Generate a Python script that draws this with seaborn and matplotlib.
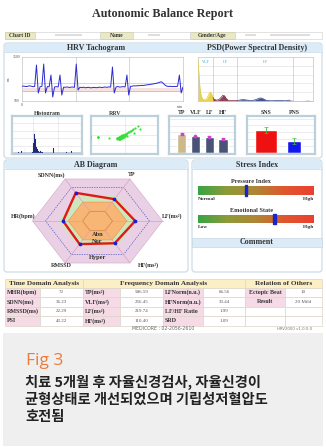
import numpy as np
import pandas as pd
import matplotlib
matplotlib.use("Agg")
import matplotlib.pyplot as plt
import seaborn as sns
from matplotlib.patches import Rectangle, FancyBboxPatch
from matplotlib.colors import LinearSegmentedColormap

sns.set_theme(style="white")
plt.rcParams['font.family'] = ['Liberation Serif', 'DejaVu Sans']

# ---------------- data ----------------
report_title = "Autonomic Balance Report"
info_labels = ["Chart ID", "Name", "Gender/Age"]
panel_titles = ["HRV Tachogram", "PSD(Power Spectral Density)", "AB Diagram", "Stress Index", "Comment"]
small_titles = ["Histogram", "RRV"]

rr_ms = [835, 840, 828, 832, 845, 838, 826, 830, 1318, 682,
         825, 832, 1340, 682, 828, 822, 1090, 591, 820, 826,
         818, 1090, 636, 815, 812, 820, 808, 814, 818, 810,
         1340, 750, 812, 806, 815, 800, 808, 812, 798, 805,
         810, 802, 808, 815, 806, 812, 818, 810, 822, 815,
         1272, 682, 820, 828, 815, 822, 826, 818, 1090, 636,
         832, 838, 845, 842, 850, 848, 856, 852, 860, 866,
         872, 878, 885, 892, 900, 910, 925, 938, 905, 862,
         838, 830, 835, 826, 832, 828, 835, 1090, 682, 820]

psd_freq = [0.000, 0.003, 0.006, 0.009, 0.012, 0.016, 0.020, 0.025, 0.030, 0.035,
            0.040, 0.045, 0.050, 0.055, 0.060, 0.065, 0.070, 0.080, 0.090, 0.100,
            0.108, 0.115, 0.122, 0.130, 0.140, 0.150, 0.160, 0.170, 0.180, 0.190,
            0.200, 0.215, 0.230, 0.245, 0.260, 0.270, 0.280, 0.290, 0.300, 0.320,
            0.340, 0.360, 0.380, 0.400, 0.420, 0.440, 0.460, 0.475, 0.490, 0.500]
psd_power = [92, 70, 45, 28, 16, 9, 5, 3, 3, 4,
             7, 13, 19, 20, 15, 8, 4, 2, 3, 8,
             13, 12, 6, 2, 1, 1, 1, 1, 2, 3,
             3, 2, 1, 2, 5, 7, 6, 3, 1, 0.5,
             1, 1, 0.5, 2, 1, 0.5, 1, 2, 1, 0.5]
band_names = ["VLF", "LF", "HF"]
band_edges = [0.0, 0.065, 0.17, 0.415]

spectral_labels = ["TP", "VLF", "LF", "HF"]
spectral_power = [586.59, 256.45, 219.74, 110.40]

ans_labels = ["SNS", "PNS"]
ans_values = [66.56, 33.44]
ans_error = [10, 9]

radar_labels = ["LF(ms²)", "TP", "SDNN(ms)", "HR(bpm)", "RMSSD", "HF(ms²)"]
radar_values = [0.58, 0.52, 0.67, 0.53, 0.55, 0.53]
zone_levels = [1.0, 0.8, 0.6, 0.45, 0.23]
zone_names = ["Abn", "Nor", "Hyper"]

stress_names = ["Pressure Index", "Emotional State"]
stress_values = [41.5, 66.0]
stress_low = ["Normal", "Low"]
stress_high = ["High", "High"]

table_headers = ["Time Domain Analysis", "Frequency Domain Analysis", "Relation of Others"]
time_labels = ["MHR(bpm)", "SDNN(ms)", "RMSSD(ms)", "PSI"]
time_values = ["72", "36.23", "22.29", "43.22"]
freq_labels1 = ["TP(ms²)", "VLF(ms²)", "LF(ms²)", "HF(ms²)"]
freq_values1 = ["586.59", "256.45", "219.74", "110.40"]
freq_labels2 = ["LFNorm(n.u.)", "HFNorm(n.u.)", "LF/HF Ratio", "SRD"]
freq_values2 = ["66.56", "33.44", "1.99", "1.09"]
rel_labels = ["Ectopic Beat", "Result", "", ""]
rel_values = ["10", "20 Mild", "", ""]
footer_text = "MEDICORE : 02-2056-2610"
version_text = "HRV2000 v1.0.0.0"

caption_title = "Fig 3"
caption_lines = ["치료 5개월 후 자율신경검사, 자율신경이",
                 "균형상태로 개선되었으며 기립성저혈압도",
                 "호전됨"]

# ---------------- figure ----------------
W, H = 326, 447
fig = plt.figure(figsize=(W / 100, H / 100), dpi=100)
fig.patch.set_facecolor("white")
bg = fig.add_axes([0, 0, 1, 1])
bg.set_xlim(0, W)
bg.set_ylim(H, 0)
bg.axis("off")

SERIF = ['Liberation Serif', 'DejaVu Serif']
DARK = "#333333"


def px_axes(x0, y0, x1, y1):
    return fig.add_axes([x0 / W, 1 - y1 / H, (x1 - x0) / W, (y1 - y0) / H])


def box(x0, y0, x1, y1, fc, ec, lw=0.6, r=0, z=1):
    if r:
        p = FancyBboxPatch((x0, y0), x1 - x0, y1 - y0,
                           boxstyle=f"round,pad=0,rounding_size={r}",
                           fc=fc, ec=ec, lw=lw, zorder=z)
    else:
        p = Rectangle((x0, y0), x1 - x0, y1 - y0, fc=fc, ec=ec, lw=lw, zorder=z)
    bg.add_patch(p)


def T(x, y, s, size, ha="center", va="center", bold=True, color=DARK, family=None, z=5, **kw):
    bg.text(x, y, s, fontsize=size, ha=ha, va=va, color=color,
            fontweight="bold" if bold else "normal",
            family=family if family else SERIF, zorder=z, **kw)


# title
T(163, 14, report_title, 8.7)

# info row
info_cells = [(5, 35), (100, 133), (190, 235)]
value_cells = [(35, 100), (133, 190), (235, 322)]
for (a, b), lab in zip(info_cells, info_labels):
    box(a, 31.5, b, 39, "#e9e9c6", "#c9c9a2", lw=0.5)
    T((a + b) / 2, 35.3, lab, 4.0)
for a, b in value_cells:
    box(a, 31.5, b, 39, "white", "#d6d6d6", lw=0.5)
for a, b in [(55, 82), (148, 160), (245, 256), (270, 310)]:
    box(a, 34.3, b, 36.3, "#dedede", "none", lw=0)

# ---------------- top panel ----------------
PANEL_EC = "#c6d8e4"
BAND_FC = "#dbecf8"
box(4, 43, 322, 158, "white", PANEL_EC, lw=0.8, r=3)
box(4.4, 43.4, 321.6, 52, BAND_FC, "none", lw=0, r=2.5, z=1.5)
bg.plot([4.4, 321.6], [52, 52], color=PANEL_EC, lw=0.5, zorder=2)
T(96, 47.8, panel_titles[0], 5.8)
T(257, 47.8, panel_titles[1], 5.8)

# tachogram
ax = px_axes(22, 57, 183, 101)
tach = pd.DataFrame({"beat": np.arange(len(rr_ms)), "rr": rr_ms})
ax.axhspan(705, 790, color="#f7e2e2", lw=0, zorder=0)
ax.axhline(727, color="#e9a3a3", lw=0.5, zorder=1)
ax.axhline(909, color="#b8b8b8", lw=0.4, zorder=1)
nb = len(rr_ms) - 1
for xv in (nb / 3, 2 * nb / 3):
    ax.axvline(xv, color="#c8c8c8", lw=0.5, zorder=1)
sns.lineplot(data=tach, x="beat", y="rr", ax=ax, color="#2b2bd0", lw=0.7, zorder=3)
ax.set_xlim(0, nb)
ax.set_ylim(500, 1500)
ax.set_yticks([500, 1500])
ax.set_yticklabels(["500", "1500"])
ax.set_xticks([0])
ax.set_xticklabels(["0"])
ax.tick_params(length=0, pad=1.5, labelsize=2.8, colors="#555555")
ax.set_xlabel("")
ax.set_ylabel("ms", fontsize=2.8, labelpad=1, color="#555555")
ax.text(1.0, -0.1, "min", transform=ax.transAxes, fontsize=2.8, ha="right", va="top", color="#555555")
for s in ax.spines.values():
    s.set_color("#c4c4c4")
    s.set_linewidth(0.5)

# PSD
ax = px_axes(198, 57, 313, 101)
f = np.array(psd_freq)
p = np.array(psd_power)
band_colors = ["#e6cf3c", "#7e2f45", "#2f3f86"]
for yv in (20, 40, 60, 80):
    ax.axhline(yv, color="#dcdcdc", lw=0.4, zorder=0)
for xv in band_edges[1:]:
    ax.axvline(xv, color="#c8c8c8", lw=0.5, zorder=0)
for i, name in enumerate(band_names):
    lo, hi = band_edges[i], band_edges[i + 1]
    m = (f >= lo) & (f <= hi)
    ax.fill_between(f, p, where=m, interpolate=True, color=band_colors[i], alpha=0.9, lw=0, zorder=2)
    sub = pd.DataFrame({"freq": f[m], "power": p[m]})
    sns.lineplot(data=sub, x="freq", y="power", ax=ax, color=band_colors[i], lw=0.5, zorder=3)
    ax.text((lo + hi) / 2, 88, name, fontsize=3, color="#35b4d4", ha="center", va="center")
mrest = f >= band_edges[-1]
ax.fill_between(f, p, where=mrest, interpolate=True, color="#777777", alpha=0.8, lw=0)
ax.set_xlim(0, 0.5)
ax.set_ylim(0, 100)
ax.set_xticks([])
ax.set_yticks([])
ax.set_xlabel("")
ax.set_ylabel("")
for s in ax.spines.values():
    s.set_color("#c4c4c4")
    s.set_linewidth(0.5)


def small_box(ax):
    ax.set_xlabel("")
    ax.set_ylabel("")
    for s in ax.spines.values():
        s.set_color("#bcd0dc")
        s.set_linewidth(1.6)


# histogram
ax = px_axes(12, 116, 82, 154)
bins = np.arange(500, 1510, 10)
counts, _ = np.histogram(rr_ms, bins=bins)
sns.histplot(x=rr_ms, bins=bins, ax=ax, color="#1e2a78", edgecolor="#1e2a78", alpha=1, lw=0.2)
ax.axhline(0, color="#1e2a78", lw=1.0, xmin=0.02, xmax=0.98)
ax.set_xlim(500, 1500)
ax.set_ylim(-counts.max() * 0.05, counts.max() / 0.55)
ax.set_yticks(np.linspace(0, counts.max() / 0.55, 6)[1:-1])
ax.set_xticks([800, 1150])
ax.grid(True, color="#dddddd", lw=0.4)
ax.tick_params(labelleft=False, labelbottom=False, length=0)
small_box(ax)
T(47, 113.5, small_titles[0], 4.2)

# RRV (Poincare)
ax = px_axes(91, 116, 158, 154)
sns.scatterplot(x=rr_ms[:-1], y=rr_ms[1:], ax=ax, s=2.4, color="#35e035", linewidth=0, zorder=3)
ax.set_xlim(640, 1050)
ax.set_ylim(640, 1050)
ax.set_xticks([845])
ax.set_yticks([740, 845, 950])
ax.grid(True, color="#dddddd", lw=0.4)
ax.tick_params(labelleft=False, labelbottom=False, length=0)
small_box(ax)
T(115, 113.5, small_titles[1], 4.2)

# spectral bars
ax = px_axes(169, 116, 235, 154)
logp = np.log10(spectral_power)
spec = pd.DataFrame({"band": spectral_labels, "logp": logp})
sns.barplot(data=spec, x="band", y="logp", hue="band", palette=["#cdb98a", "#4a5276", "#4a5276", "#4a5276"],
            legend=False, width=0.68, saturation=1, ax=ax, zorder=2)
ax.errorbar(np.arange(4), logp, yerr=0.12, fmt="o", ms=1.6, color="#d040d0",
            elinewidth=0.6, capsize=1.2, capthick=0.5, zorder=4)
ax.set_xlim(-0.9, 3.85)
ax.set_ylim(-0.19, 5.43)
ax.set_yticks([1, 2, 3, 4, 5])
ax.grid(True, axis="y", color="#dddddd", lw=0.4)
ax.tick_params(axis="y", labelleft=False, length=0)
ax.tick_params(axis="x", top=True, bottom=False, labeltop=True, labelbottom=False, length=0, pad=0.8,
               labelsize=4.2)
for t in ax.get_xticklabels():
    t.set_fontweight("bold")
    t.set_color(DARK)
small_box(ax)

# SNS / PNS
ax = px_axes(247, 116, 315, 154)
ans = pd.DataFrame({"sys": ans_labels, "val": ans_values})
sns.barplot(data=ans, x="sys", y="val", hue="sys", palette=["#ee1111", "#1515ee"], legend=False,
            width=0.79, saturation=1, ax=ax, zorder=2)
pns_bar = ax.patches[1]
pns_bar.set_width(0.5)
pns_bar.set_x(1 - 0.25)
ax.errorbar([0, 1], ans_values, yerr=ans_error, fmt="none", ecolor="#40c040", elinewidth=0.6,
            capsize=1.5, capthick=0.5, zorder=4)
ax.set_xlim(-0.68, 1.75)
ax.set_ylim(-3.8, 107.5)
ax.set_yticks([20, 40, 60, 80, 100])
ax.grid(True, axis="y", color="#dddddd", lw=0.4)
ax.tick_params(axis="y", labelleft=False, length=0)
ax.tick_params(axis="x", top=True, bottom=False, labeltop=True, labelbottom=False, length=0, pad=0.8,
               labelsize=4.2)
for t in ax.get_xticklabels():
    t.set_fontweight("bold")
    t.set_color(DARK)
small_box(ax)

# ---------------- AB diagram panel ----------------
box(4, 160, 188, 272, "white", PANEL_EC, lw=0.8, r=3)
box(4.4, 160.4, 187.6, 169, BAND_FC, "none", lw=0, r=2.5, z=1.5)
bg.plot([4.4, 187.6], [169, 169], color=PANEL_EC, lw=0.5, zorder=2)
T(96, 164.6, panel_titles[2], 5.8)

ax = px_axes(17.5, 171, 177.5, 271)
ax.set_xlim(-80 / 65, 80 / 65)
ax.set_ylim(-50 / 48.5, 50 / 48.5)
ax.axis("off")
ang = np.deg2rad(np.arange(6) * 60)


def hexxy(r):
    return np.r_[r * np.cos(ang), r * np.cos(ang[0])], np.r_[r * np.sin(ang), r * np.sin(ang[0])]


ax.fill(*hexxy(zone_levels[0]), color="#ead0e4", ec="#d9b3cf", lw=0.5, zorder=1)
ax.plot(*hexxy(zone_levels[1]), color="#5a5ac8", lw=0.5, ls=(0, (2, 1.5)), zorder=2)
ax.fill(*hexxy(zone_levels[2]), color="#cfe6bd", lw=0, zorder=2)
ax.fill(*hexxy(zone_levels[3]), color="#f8b676", lw=0, zorder=3)
ax.plot(*hexxy(zone_levels[3]), color="#e59a52", lw=0.5, zorder=3)
ax.plot(*hexxy(zone_levels[4]), color="#d88a48", lw=0.6, zorder=4)
for a in ang:
    ax.plot([zone_levels[4] * np.cos(a), np.cos(a)], [zone_levels[4] * np.sin(a), np.sin(a)],
            color="#d9a0bf", lw=0.5, zorder=4)
rv = np.array(radar_values)
rx = np.r_[rv * np.cos(ang), rv[0] * np.cos(ang[0])]
ry = np.r_[rv * np.sin(ang), rv[0] * np.sin(ang[0])]
ax.plot(rx, ry, color="#e01818", lw=1.7, zorder=6, solid_joinstyle="miter")
sns.scatterplot(x=rv * np.cos(ang), y=rv * np.sin(ang), ax=ax, s=7, color="#1a1ad8", linewidth=0, zorder=7)
ax.set_xlim(-80 / 65, 80 / 65)
ax.set_ylim(-50 / 48.5, 50 / 48.5)

label_pos = [(0.99, 0.1, "left"), (0.47, 0.95, "left"), (-0.5, 0.95, "right"),
             (-0.95, 0.1, "right"), (-0.39, -0.91, "right"), (0.62, -0.91, "left")]
for (lx, ly, ha), lab in zip(label_pos, radar_labels):
    ax.text(lx, ly, lab, fontsize=4.3, fontweight="bold", ha=ha, va="center", color=DARK,
            family=SERIF, clip_on=False, zorder=8)
for lab, yy in zip(zone_names, [-0.27, -0.43, -0.76]):
    ax.text(0, yy, lab, fontsize=4.6, fontweight="bold", ha="center", va="center", color=DARK,
            family=SERIF, zorder=8)

# ---------------- stress panel ----------------
box(192, 160, 322, 272, "white", PANEL_EC, lw=0.8, r=3)
box(192.4, 160.4, 321.6, 169, BAND_FC, "none", lw=0, r=2.5, z=1.5)
bg.plot([192.4, 321.6], [169, 169], color=PANEL_EC, lw=0.5, zorder=2)
T(257, 164.6, panel_titles[3], 5.8)
box(192.4, 237.5, 321.6, 247, BAND_FC, PANEL_EC, lw=0.5, z=1.5)
T(257, 242.3, panel_titles[4], 5.8)

grad_cmap = LinearSegmentedColormap.from_list("stress", ["#38a444", "#8e9a3a", "#b08536", "#e0562e", "#ec4030"])
gradient = np.linspace(0, 1, 256)[None, :]
for i, (name, val) in enumerate(zip(stress_names, stress_values)):
    y0 = [186, 214.5][i]
    T(251, y0 - 4.3, name, 4.5)
    sax = px_axes(198, y0, 314, y0 + 9)
    sax.imshow(gradient, aspect="auto", cmap=grad_cmap, extent=(0, 100, 0, 1))
    sax.add_patch(Rectangle((val - 1.1, -0.08), 2.2, 1.16, color="#1626c8", clip_on=False, zorder=5))
    sax.set_xlim(0, 100)
    sax.set_ylim(0, 1)
    sax.axis("off")
    T(198, y0 + 12.8, stress_low[i], 3.9, ha="left")
    T(314, y0 + 12.8, stress_high[i], 3.9, ha="right")

# ---------------- table ----------------
col_x = [5, 40, 83, 120, 163, 203, 245, 285, 322]
row_y = [279, 287.5, 297, 306.5, 316, 325.5]
TAB_EC = "#dcd6c8"
PINK = "#f6dbe7"
HEAD = "#fcefc6"
for (a, b), txt in zip([(5, 83), (83, 245), (245, 322)], table_headers):
    box(a, row_y[0], b, row_y[1], HEAD, TAB_EC, lw=0.5)
    T((a + b) / 2, (row_y[0] + row_y[1]) / 2 + 0.2, txt, 5.2)
cols = [(time_labels, time_values), (freq_labels1, freq_values1),
        (freq_labels2, freq_values2), (rel_labels, rel_values)]
for r in range(4):
    y0, y1 = row_y[r + 1], row_y[r + 2]
    yc = (y0 + y1) / 2 + 0.2
    for c, (labs, vals) in enumerate(cols):
        la, lb, vb = col_x[2 * c], col_x[2 * c + 1], col_x[2 * c + 2]
        lab = labs[r]
        box(la, y0, lb, y1, PINK if lab else "white", TAB_EC, lw=0.5)
        box(lb, y0, vb, y1, "white", TAB_EC, lw=0.5)
        if lab:
            if c == 3:
                T((la + lb) / 2, yc, lab, 4.3)
            else:
                T(la + 2, yc, lab, 4.3, ha="left")
        if vals[r]:
            T((lb + vb) / 2, yc, vals[r], 3.6, bold=False, color="#555555")
T(163, 329, footer_text, 3.3, bold=False, color="#666666", family=["DejaVu Sans"])
T(312, 329, version_text, 2.8, bold=False, color="#777777", ha="right", family=["DejaVu Sans"])

# ---------------- caption ----------------
box(3, 333, 323, 445.5, "#efefef", "none", lw=0, z=0.5)
T(26, 361, caption_title, 12.5, ha="left", bold=False, color="#ee7a3b",
  family=["Open Sans", "DejaVu Sans"])
for i, line in enumerate(caption_lines):
    T(25, 382.8 + 17 * i, line, 10.3, ha="left", bold=True, color="#222222",
      family=["Noto Sans CJK KR", "DejaVu Sans"])

fig.savefig("out.png", dpi=100)
